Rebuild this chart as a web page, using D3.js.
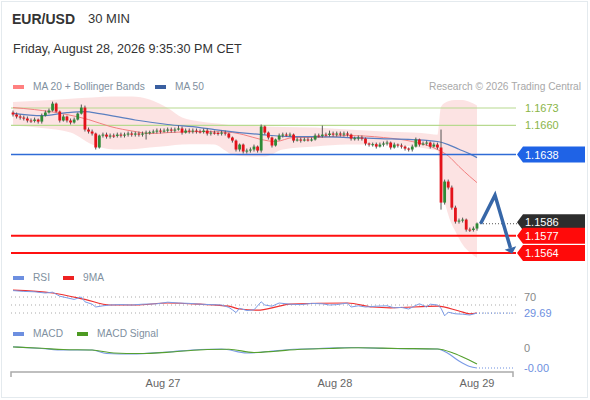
<!DOCTYPE html>
<html>
<head>
<meta charset="utf-8">
<script src="https://cdn.jsdelivr.net/npm/d3@7"></script>
<style>
  body { margin: 0; background: #fff; font-family: "Liberation Sans", Arial, sans-serif; }
</style>
</head>
<body>
<div id="chart"></div>
<script>
// ---- data ----
var firstOpen = 1.16696;
var closes = [1.16681,1.16666,1.16658,1.16651,1.16636,1.16633,1.16643,1.16628,1.16673,1.16696,
  1.16711,1.16763,1.16703,1.16636,1.16666,1.16636,1.16621,1.16643,1.16688,1.16733,
  1.16568,1.16553,1.16538,1.16433,1.16523,1.16530,1.16515,1.16523,1.16520,1.16530,
  1.16523,1.16530,1.16538,1.16530,1.16538,1.16530,1.16538,1.16545,1.16548,1.16553,
  1.16560,1.16553,1.16560,1.16568,1.16560,1.16568,1.16576,1.16545,1.16560,1.16553,
  1.16560,1.16553,1.16550,1.16560,1.16538,1.16545,1.16542,1.16538,1.16545,1.16538,
  1.16508,1.16485,1.16418,1.16455,1.16403,1.16410,1.16418,1.16440,1.16410,1.16591,
  1.16545,1.16508,1.16448,1.16493,1.16523,1.16530,1.16527,1.16530,1.16485,1.16493,
  1.16485,1.16493,1.16490,1.16493,1.16523,1.16520,1.16530,1.16527,1.16538,1.16530,
  1.16538,1.16530,1.16538,1.16530,1.16500,1.16503,1.16508,1.16500,1.16463,1.16455,
  1.16458,1.16440,1.16455,1.16463,1.16470,1.16433,1.16455,1.16448,1.16440,1.16425,
  1.16418,1.16440,1.16493,1.16455,1.16463,1.16470,1.16440,1.16455,1.16433,1.16019,
  1.16177,1.16132,1.15981,1.15876,1.15884,1.15891,1.15816,1.15813,1.15824,1.15862];
var highs = [1.16711,1.16696,1.16681,1.16673,1.16666,1.16651,1.16658,1.16651,1.16688,1.16711,
  1.16726,1.16778,1.16771,1.16711,1.16681,1.16673,1.16651,1.16658,1.16696,1.16756,
  1.16748,1.16583,1.16568,1.16545,1.16530,1.16545,1.16545,1.16538,1.16538,1.16545,
  1.16545,1.16545,1.16553,1.16553,1.16553,1.16553,1.16553,1.16560,1.16560,1.16568,
  1.16576,1.16576,1.16576,1.16583,1.16583,1.16583,1.16598,1.16591,1.16576,1.16576,
  1.16576,1.16576,1.16568,1.16576,1.16576,1.16560,1.16560,1.16553,1.16560,1.16560,
  1.16545,1.16515,1.16493,1.16463,1.16463,1.16425,1.16433,1.16455,1.16448,1.16606,
  1.16598,1.16553,1.16515,1.16500,1.16538,1.16545,1.16545,1.16545,1.16538,1.16508,
  1.16508,1.16508,1.16508,1.16508,1.16538,1.16538,1.16598,1.16545,1.16560,1.16553,
  1.16553,1.16553,1.16553,1.16553,1.16538,1.16515,1.16523,1.16523,1.16508,1.16470,
  1.16470,1.16470,1.16470,1.16478,1.16485,1.16478,1.16470,1.16463,1.16463,1.16448,
  1.16433,1.16455,1.16508,1.16500,1.16478,1.16485,1.16478,1.16470,1.16470,1.16568,
  1.16192,1.16192,1.16147,1.15996,1.15899,1.15906,1.15899,1.15831,1.15839,1.15869];
var lows = [1.16666,1.16651,1.16643,1.16636,1.16621,1.16618,1.16621,1.16613,1.16613,1.16666,
  1.16688,1.16703,1.16696,1.16621,1.16628,1.16621,1.16606,1.16613,1.16636,1.16681,
  1.16553,1.16538,1.16523,1.16418,1.16425,1.16508,1.16500,1.16500,1.16505,1.16508,
  1.16508,1.16508,1.16515,1.16515,1.16515,1.16515,1.16515,1.16493,1.16530,1.16538,
  1.16538,1.16538,1.16545,1.16545,1.16545,1.16545,1.16560,1.16530,1.16538,1.16538,
  1.16538,1.16538,1.16538,1.16538,1.16523,1.16523,1.16530,1.16523,1.16523,1.16523,
  1.16500,1.16470,1.16403,1.16403,1.16388,1.16388,1.16395,1.16403,1.16395,1.16395,
  1.16530,1.16493,1.16433,1.16440,1.16485,1.16508,1.16515,1.16515,1.16470,1.16478,
  1.16470,1.16478,1.16478,1.16478,1.16485,1.16508,1.16508,1.16515,1.16515,1.16515,
  1.16515,1.16515,1.16515,1.16515,1.16485,1.16485,1.16485,1.16485,1.16448,1.16440,
  1.16440,1.16425,1.16433,1.16440,1.16448,1.16418,1.16425,1.16433,1.16425,1.16410,
  1.16403,1.16403,1.16433,1.16440,1.16448,1.16448,1.16425,1.16433,1.16418,1.15966,
  1.16004,1.16117,1.15966,1.15861,1.15861,1.15869,1.15801,1.15798,1.15801,1.15808];

var ma20Idx = [0,6,15,21,27,34,38,43,52,60,64,69,73,78,84,93,103,111,118,121,124,127,129];
var ma20Val = [1.16733,1.16718,1.16681,1.16643,1.16591,1.16553,1.16538,1.16545,1.16553,1.16548,1.16530,
  1.16493,1.16478,1.16508,1.16508,1.16523,1.16508,1.16478,1.16418,1.16370,1.16290,1.16215,1.16169];
var ma50Idx = [0,8,15,20,24,34,43,52,56,69,77,84,93,102,111,118,121,124,127,129];
var ma50Val = [1.16690,1.16672,1.16695,1.16703,1.16688,1.16640,1.16606,1.16583,1.16568,1.16530,
  1.16515,1.16515,1.16508,1.16500,1.16493,1.16478,1.16455,1.16420,1.16385,1.16357];
var bbIdx = [0,8,16,22,28,33,38,43,47,52,56,59,61,64,70,75,84,93,103,111,116,118,119,121,123,125,127,129];
var bbUpper = [1.16775,1.16786,1.16800,1.16809,1.16816,1.16816,1.16794,1.16730,1.16658,1.16628,
  1.16615,1.16606,1.16600,1.16598,1.16591,1.16588,1.16583,1.16568,1.16553,1.16545,
  1.16535,1.16528,1.16740,1.16780,1.16790,1.16790,1.16775,1.16749];
var bbLower = [1.16598,1.16580,1.16545,1.16455,1.16418,1.16420,1.16433,1.16445,1.16455,1.16458,
  1.16455,1.16410,1.16378,1.16368,1.16365,1.16418,1.16440,1.16455,1.16455,1.16440,
  1.16420,1.16410,1.16170,1.15930,1.15801,1.15703,1.15643,1.15605];

var rsiIdx = [0,3,6,9,11,13,15,17,19,20,22,23,25,27,30,33,36,40,43,46,49,52,55,58,60,61,62,63,65,67,
  69,70,72,74,77,80,83,86,88,90,93,94,96,98,101,104,106,108,110,112,113,115,116,118,119,120,121,123,125,127,129];
var rsiVal = [86,84,83,80,82,72,68,64,70,58,52,45,48,50,51,50,52,53,57,55,54,52,51,50,44,38,31,42,36,38,
  58,50,47,55,52,51,54,53,50,51,55,45,48,45,47,48,43,44,40,49,53,45,52,50,42,23,32,28,27,25,29.69];
var rsiMaIdx = [0,11,20,27,34,43,52,60,63,68,74,77,93,100,105,118,124,127,129];
var rsiMaVal = [87,80,64,50,50,55,52,47,40,37,47,52,55,45,43,47,35,28,30];
var rsiLevels = [70, 50, 30];

var macdIdx = [0,8,14,22,26,33,43,52,58,65,71,77,85,94,105,118,121,124,127,129];
var macdVal = [0.00005,-0.00002,-0.00008,-0.00008,-0.00022,-0.00024,-0.00016,-0.00006,-0.00004,-0.0002,
  -0.00014,-0.00006,-0.00002,0.00002,-0.00002,-0.00004,-0.00022,-0.00052,-0.00074,-0.0008];
var sigIdx = [0,8,14,22,28,35,45,54,60,67,73,79,88,96,107,118,122,125,129];
var sigVal = [0.00004,-0.00001,-0.00006,-0.00008,-0.0002,-0.00022,-0.00015,-0.00006,-0.00005,-0.00018,
  -0.00013,-0.00006,-0.00002,0.00001,-0.00002,-0.00004,-0.00018,-0.00036,-0.00064];

var greenLevels = [1.1673, 1.1660];
var blueLevels = [1.1638];
var redLevels = [1.1577, 1.1564];
var lastPrice = 1.1586;
var dayLabels = ["Aug 27", "Aug 28", "Aug 29"];
var dayIdx = [41.7, 89.5, 129];
// forecast arrow: [candle index, price]
var arrowPts = [[130, 1.1586], [134, 1.16075], [138.3, 1.15678]];

// ---- setup ----
var W = 590, H = 400;
var svg = d3.select("#chart").append("svg").attr("width", W).attr("height", H);

svg.append("rect").attr("x", 1.5).attr("y", 1.5).attr("width", 586).attr("height", 396)
  .attr("fill", "#fff").attr("stroke", "#e4eaee");

var x = d3.scaleLinear().domain([0, 129]).range([13, 477]);
var y = d3.scaleLinear().domain([1.1564, 1.1673]).range([253, 108]);
var yRsi = d3.scaleLinear().domain([30, 70]).range([313, 297]);
var yMacd = d3.scaleLinear().domain([-0.0008, 0]).range([368, 348]);

// header
svg.append("text").attr("x", 12).attr("y", 24).text("EUR/USD")
  .style("font-size", "14px").style("font-weight", "bold").attr("fill", "#333");
svg.append("text").attr("x", 88).attr("y", 23).text("30 MIN")
  .style("font-size", "13px").attr("fill", "#333");
svg.append("text").attr("x", 13).attr("y", 53).text("Friday, August 28, 2026 9:35:30 PM CET")
  .style("font-size", "12.6px").attr("fill", "#333");

function legend(items, ly) {
  items.forEach(function(it) {
    svg.append("rect").attr("x", it[0]).attr("y", ly - 5).attr("width", 11).attr("height", 4).attr("fill", it[2]);
    svg.append("text").attr("x", it[0] + 20).attr("y", ly).text(it[1])
      .style("font-size", "10.2px").attr("fill", "#8090a0");
  });
}
legend([[13, "MA 20 + Bollinger Bands", "#ff8080"], [155, "MA 50", "#3a5fa0"]], 90);
svg.append("text").attr("x", 581).attr("y", 90).attr("text-anchor", "end")
  .text("Research \u00a9 2026 Trading Central").style("font-size", "10.2px").attr("fill", "#a8a8a8");

// bollinger band
var bb = bbIdx.map(function(d, i) { return { i: d, u: bbUpper[i], l: bbLower[i] }; });
svg.append("path").datum(bb)
  .attr("d", d3.area().x(function(d) { return x(d.i); })
    .y0(function(d) { return y(d.l); }).y1(function(d) { return y(d.u); })
    .curve(d3.curveMonotoneX))
  .attr("fill", "#fcdede").attr("opacity", 0.85);

// levels
var x0 = 11, x1 = 516;
greenLevels.forEach(function(v) {
  svg.append("line").attr("x1", x0).attr("x2", x1).attr("y1", y(v)).attr("y2", y(v))
    .attr("stroke", "#b7d98f").attr("stroke-width", 1.2);
  svg.append("text").attr("x", 525).attr("y", y(v) + 4).text(v.toFixed(4))
    .style("font-size", "11px").attr("fill", "#8ab548");
});

// moving averages
function pts(idx, vals) { return idx.map(function(d, i) { return [d, vals[i]]; }); }
var priceLine = d3.line().x(function(d) { return x(d[0]); }).y(function(d) { return y(d[1]); })
  .curve(d3.curveMonotoneX);
svg.append("path").datum(pts(ma20Idx, ma20Val)).attr("d", priceLine)
  .attr("fill", "none").attr("stroke", "#f28080").attr("stroke-width", 1);
svg.append("path").datum(pts(ma50Idx, ma50Val)).attr("d", priceLine)
  .attr("fill", "none").attr("stroke", "#5a7fc0").attr("stroke-width", 1.2);

blueLevels.forEach(function(v) {
  svg.append("line").attr("x1", x0).attr("x2", x1).attr("y1", y(v)).attr("y2", y(v))
    .attr("stroke", "#2f6bd6").attr("stroke-width", 1.5);
});
redLevels.forEach(function(v) {
  svg.append("line").attr("x1", x0).attr("x2", x1).attr("y1", y(v)).attr("y2", y(v))
    .attr("stroke", "#ff1010").attr("stroke-width", 2);
});

// candles
var candles = closes.map(function(c, i) {
  return { i: i, o: i ? closes[i - 1] : firstOpen, h: highs[i], l: lows[i], c: c };
});
var cg = svg.append("g");
cg.selectAll("line").data(candles).enter().append("line")
  .attr("x1", function(d) { return x(d.i); }).attr("x2", function(d) { return x(d.i); })
  .attr("y1", function(d) { return y(d.h); }).attr("y2", function(d) { return y(d.l); })
  .attr("stroke", "#555").attr("stroke-width", 1);
cg.selectAll("rect").data(candles).enter().append("rect")
  .attr("x", function(d) { return x(d.i) - 1.4; }).attr("width", 2.8)
  .attr("y", function(d) { return y(Math.max(d.o, d.c)); })
  .attr("height", function(d) { return Math.max(1, Math.abs(y(d.o) - y(d.c))); })
  .attr("fill", function(d) { return d.c >= d.o ? "#2f8a36" : "#e3131b"; });

// last price dotted
svg.append("line").attr("x1", x(129) + 3).attr("x2", 517).attr("y1", y(lastPrice)).attr("y2", y(lastPrice))
  .attr("stroke", "#555").attr("stroke-dasharray", "1,2");

// price tags (dy nudges the dark tag so its text clears the red one)
function tag(v, fill, dy) {
  var cy = y(v) + (dy || 0);
  svg.append("path")
    .attr("d", "M517," + cy + "L523," + (cy - 8) + "L585," + (cy - 8) + "L585," + (cy + 8) + "L523," + (cy + 8) + "Z")
    .attr("fill", fill);
  svg.append("text").attr("x", 525).attr("y", cy + 4).text(v.toFixed(4))
    .style("font-size", "11px").attr("fill", "#fff");
}
blueLevels.forEach(function(v) { tag(v, "#1f63e6"); });
tag(lastPrice, "#2d2d2d", -1.5);
redLevels.forEach(function(v) { tag(v, "#ff0a0a"); });

// forecast arrow
var ap = arrowPts.map(function(p) { return [x(p[0]), y(p[1])]; });
var a = ap[1], b = ap[2];
var ang = Math.atan2(b[1] - a[1], b[0] - a[0]);
var tipX = b[0] + Math.cos(ang) * 6, tipY = b[1] + Math.sin(ang) * 6;
svg.append("path").attr("d", d3.line()(ap)).attr("fill", "none")
  .attr("stroke", "#3767a8").attr("stroke-width", 3.5).attr("stroke-linejoin", "miter");
svg.append("path").attr("d", d3.line()([
    [tipX, tipY],
    [b[0] + Math.cos(ang + Math.PI / 2) * 6, b[1] + Math.sin(ang + Math.PI / 2) * 6],
    [b[0] + Math.cos(ang - Math.PI / 2) * 6, b[1] + Math.sin(ang - Math.PI / 2) * 6]
  ]) + "Z").attr("fill", "#3767a8");

// ---- RSI panel ----
legend([[13, "RSI", "#6d8fe0"], [63, "9MA", "#ee2222"]], 281);
rsiLevels.forEach(function(v) {
  svg.append("line").attr("x1", x0).attr("x2", x1).attr("y1", yRsi(v)).attr("y2", yRsi(v))
    .attr("stroke", "#aaa").attr("stroke-dasharray", "1,3");
});
var rsiLine = d3.line().x(function(d) { return x(d[0]); }).y(function(d) { return yRsi(d[1]); });
svg.append("path").datum(pts(rsiMaIdx, rsiMaVal)).attr("d", rsiLine.curve(d3.curveMonotoneX))
  .attr("fill", "none").attr("stroke", "#ee3030").attr("stroke-width", 1.2);
svg.append("path").datum(pts(rsiIdx, rsiVal)).attr("d", rsiLine.curve(d3.curveLinear))
  .attr("fill", "none").attr("stroke", "#7b9be6").attr("stroke-width", 1);
var rsiLast = rsiVal[rsiVal.length - 1];
svg.append("line").attr("x1", x(129) + 2).attr("x2", 515).attr("y1", yRsi(rsiLast)).attr("y2", yRsi(rsiLast))
  .attr("stroke", "#6d8fe0").attr("stroke-dasharray", "1,2");
svg.append("text").attr("x", 524).attr("y", yRsi(70) + 4).text("70")
  .style("font-size", "11px").attr("fill", "#888");
svg.append("text").attr("x", 524).attr("y", yRsi(rsiLast) + 4).text(rsiLast.toFixed(2))
  .style("font-size", "11px").attr("fill", "#6d8fe0");

// ---- MACD panel ----
legend([[13, "MACD", "#6d8fe0"], [77, "MACD Signal", "#4d9a22"]], 337);
var macdLine = d3.line().x(function(d) { return x(d[0]); }).y(function(d) { return yMacd(d[1]); })
  .curve(d3.curveMonotoneX);
svg.append("path").datum(pts(macdIdx, macdVal)).attr("d", macdLine)
  .attr("fill", "none").attr("stroke", "#7b9be6").attr("stroke-width", 1.2);
svg.append("path").datum(pts(sigIdx, sigVal)).attr("d", macdLine)
  .attr("fill", "none").attr("stroke", "#56a030").attr("stroke-width", 1.2);
var macdLast = macdVal[macdVal.length - 1];
svg.append("line").attr("x1", x(129) + 2).attr("x2", 515).attr("y1", yMacd(macdLast)).attr("y2", yMacd(macdLast))
  .attr("stroke", "#6d8fe0").attr("stroke-dasharray", "1,2");
svg.append("text").attr("x", 524).attr("y", yMacd(0) + 4).text("0")
  .style("font-size", "11px").attr("fill", "#888");
svg.append("text").attr("x", 524).attr("y", yMacd(macdLast) + 4).text("-" + Math.abs(macdLast).toFixed(2))
  .style("font-size", "11px").attr("fill", "#6d8fe0");

// ---- time axis ----
var axisY = 372;
svg.append("path").attr("d", "M11," + (axisY + 5) + "V" + axisY + "H513V" + (axisY + 5))
  .attr("fill", "none").attr("stroke", "#aaa").attr("stroke-width", 1.5);
dayLabels.forEach(function(t, i) {
  svg.append("text").attr("x", x(dayIdx[i])).attr("y", 387).attr("text-anchor", "middle").text(t)
    .style("font-size", "11px").attr("fill", "#666");
});
</script>
</body>
</html>
